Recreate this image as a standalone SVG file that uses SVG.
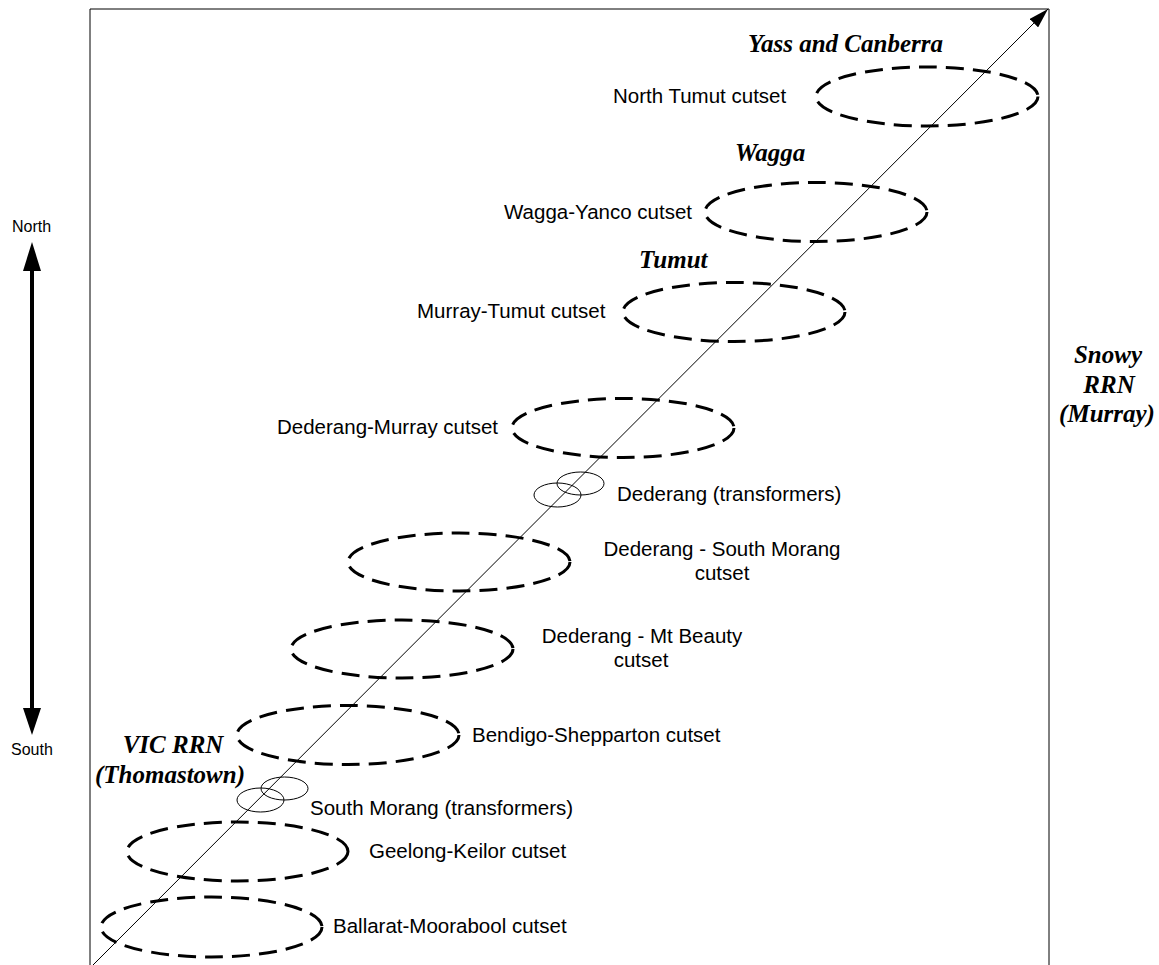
<svg xmlns="http://www.w3.org/2000/svg" width="1159" height="965" viewBox="0 0 1159 965">
<style>
.cut{fill:none;stroke:#000;stroke-width:3;stroke-dasharray:18 9}
.tr{fill:none;stroke:#000;stroke-width:1}
.lbl{font-family:"Liberation Sans",Arial,sans-serif;font-size:20.5px;fill:#000}
.dir{font-family:"Liberation Sans",Arial,sans-serif;font-size:16px;fill:#000}
.bus{font-family:"Liberation Serif","Times New Roman",serif;font-size:25px;font-weight:bold;font-style:italic;fill:#000}
</style>
<defs>
<marker id="ah" viewBox="0 0 20 12" refX="20" refY="6" markerWidth="20" markerHeight="12" markerUnits="userSpaceOnUse" orient="auto">
<path d="M0,0 L20,6 L0,12 Z" fill="#000"/>
</marker>
</defs>
<rect width="1159" height="965" fill="#fff"/>
<g id="frame">
<path d="M90,970 V9 H1049 V970" fill="none" stroke="#000" stroke-width="1"/>
</g>
<g id="connectors">
<line x1="93" y1="965" x2="1048" y2="9" stroke="#000" stroke-width="1" marker-end="url(#ah)"/>
<g id="north-south-arrow">
<line x1="32" y1="268" x2="32" y2="711" stroke="#000" stroke-width="4"/>
<polygon points="32,242 41,271 23,271" fill="#000"/>
<polygon points="32,735 41,708 23,708" fill="#000"/>
</g>
</g>
<g id="north-tumut"><ellipse class="cut" cx="927" cy="96.5" rx="111" ry="29.5"/><text class="lbl" x="613" y="103">North Tumut cutset</text></g>
<g id="wagga-yanco"><ellipse class="cut" cx="816" cy="212" rx="111" ry="29.5"/><text class="lbl" x="504" y="219">Wagga-Yanco cutset</text></g>
<g id="murray-tumut"><ellipse class="cut" cx="734" cy="312" rx="111" ry="29.5"/><text class="lbl" x="417" y="318">Murray-Tumut cutset</text></g>
<g id="dederang-murray"><ellipse class="cut" cx="623" cy="428" rx="111" ry="29.5"/><text class="lbl" x="277" y="434">Dederang-Murray cutset</text></g>
<g id="dederang-transformers"><ellipse class="tr" cx="557.5" cy="495" rx="23.5" ry="12"/><ellipse class="tr" cx="580.5" cy="483.5" rx="23.5" ry="11.5"/><text class="lbl" x="617" y="501">Dederang (transformers)</text></g>
<g id="dederang-south-morang"><ellipse class="cut" cx="459" cy="562" rx="111" ry="29"/><text class="lbl" text-anchor="middle" x="722" y="556">Dederang - South Morang</text><text class="lbl" text-anchor="middle" x="722" y="580">cutset</text></g>
<g id="dederang-mt-beauty"><ellipse class="cut" cx="402" cy="649" rx="111" ry="29"/><text class="lbl" text-anchor="middle" x="642" y="643">Dederang - Mt Beauty</text><text class="lbl" text-anchor="middle" x="641" y="667">cutset</text></g>
<g id="bendigo-shepparton"><ellipse class="cut" cx="348" cy="735" rx="111" ry="29.5"/><text class="lbl" x="472" y="742">Bendigo-Shepparton cutset</text></g>
<g id="south-morang-transformers"><ellipse class="tr" cx="260.5" cy="800" rx="23.5" ry="12"/><ellipse class="tr" cx="284.5" cy="788.5" rx="23.5" ry="11.5"/><text class="lbl" x="310" y="815">South Morang (transformers)</text></g>
<g id="geelong-keilor"><ellipse class="cut" cx="237.5" cy="851.5" rx="110.5" ry="29.5"/><text class="lbl" x="369" y="858">Geelong-Keilor cutset</text></g>
<g id="ballarat-moorabool"><ellipse class="cut" cx="211.5" cy="927" rx="110.5" ry="30"/><text class="lbl" x="333" y="933">Ballarat-Moorabool cutset</text></g>
<g id="yass-canberra"><text class="bus" x="748" y="52">Yass and Canberra</text></g>
<g id="wagga"><text class="bus" x="735" y="161">Wagga</text></g>
<g id="tumut"><text class="bus" x="639" y="268">Tumut</text></g>
<g id="snowy-rrn"><text class="bus" text-anchor="middle" x="1108" y="363">Snowy</text><text class="bus" text-anchor="middle" x="1109" y="393">RRN</text><text class="bus" text-anchor="middle" x="1107" y="422">(Murray)</text></g>
<g id="vic-rrn"><text class="bus" text-anchor="middle" x="173" y="753">VIC RRN</text><text class="bus" text-anchor="middle" x="170" y="783">(Thomastown)</text></g>
<g id="north"><text class="dir" x="12" y="232">North</text></g>
<g id="south"><text class="dir" x="11" y="755">South</text></g>
</svg>
